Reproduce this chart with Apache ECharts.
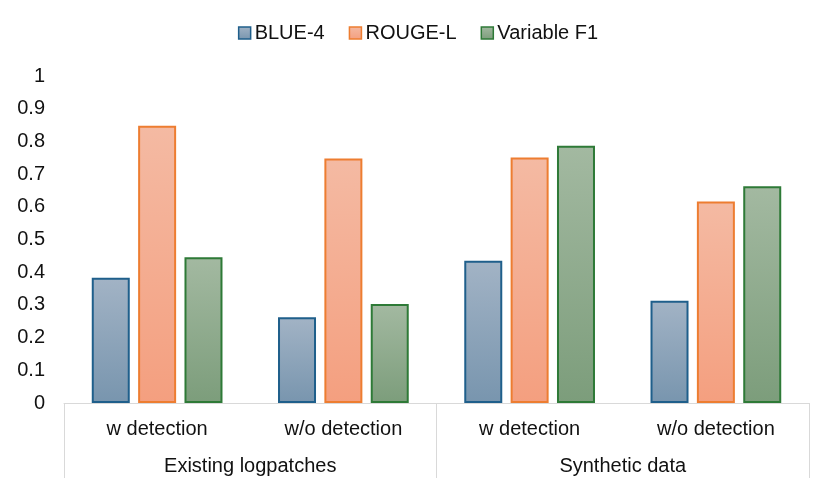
<!DOCTYPE html>
<html><head><meta charset="utf-8">
<script src="https://cdn.jsdelivr.net/npm/echarts@6/dist/echarts.min.js"></script>
<style>html,body{margin:0;padding:0;background:#fff}#c{width:836px;height:491px}</style>
</head><body><div id="c"></div>
<script>
const categories = ['w detection', 'w/o detection', 'w detection', 'w/o detection'];
const groups = ['Existing logpatches', 'Synthetic data'];
const seriesNames = ['BLUE-4', 'ROUGE-L', 'Variable F1'];
const blue4 = [0.383, 0.262, 0.435, 0.313];
const rougeL = [0.848, 0.748, 0.751, 0.616];
const varF1 = [0.446, 0.303, 0.787, 0.663];
const yTicks = [0, 0.1, 0.2, 0.3, 0.4, 0.5, 0.6, 0.7, 0.8, 0.9, 1];

const font = 'Liberation Sans, Arial, sans-serif';
function grad(top, bottom) {
  return new echarts.graphic.LinearGradient(0, 0, 0, 1, [{offset: 0, color: top}, {offset: 1, color: bottom}]);
}
const styles = [
  {fill: grad('#a2b3c5', '#7895ae'), border: '#1f5f8b'},
  {fill: grad('#f4baa3', '#f49f7f'), border: '#ed7d31'},
  {fill: grad('#a3b9a1', '#7c9d7b'), border: '#2e7a37'}
];
const dataArr = [blue4, rougeL, varF1];

const chart = echarts.init(document.getElementById('c'));
chart.setOption({
  animation: false,
  textStyle: {fontFamily: font},
  legend: {
    top: 18, left: 'center', itemWidth: 12, itemHeight: 12, itemGap: 24, itemStyle: {borderWidth: 1.5},
    icon: 'rect',
    textStyle: {fontSize: 20, color: '#111', fontFamily: font, padding: [0, 0, 0, -1]},
    data: seriesNames
  },
  grid: {left: 64, right: 27, top: 76, bottom: 88, containLabel: false},
  xAxis: [
    {
      type: 'category', data: categories, position: 'bottom',
      axisLine: {show: true, lineStyle: {color: '#d9d9d9', width: 1}},
      axisTick: {show: false},
      axisLabel: {fontSize: 20, color: '#111', margin: 16, fontFamily: font, interval: 0}
    },
    {
      type: 'category', data: groups, position: 'bottom',
      axisLine: {show: false},
      axisTick: {show: true, length: 75, interval: 0, lineStyle: {color: '#d9d9d9', width: 1}},
      axisLabel: {fontSize: 20, color: '#111', margin: 53, fontFamily: font, interval: 0}
    }
  ],
  yAxis: {
    type: 'value', min: 0, max: 1, interval: 0.1,
    axisLine: {show: false}, axisTick: {show: false}, splitLine: {show: false},
    axisLabel: {fontSize: 20, color: '#111', margin: 19, fontFamily: font,
      formatter: v => { const r = Math.round(v * 10) / 10; return yTicks.includes(r) ? String(r) : ''; }}
  },
  series: seriesNames.map((n, i) => ({
    name: n, type: 'bar', xAxisIndex: 0, data: dataArr[i],
    barWidth: 38, barGap: '22%',
    itemStyle: {color: styles[i].fill, borderColor: styles[i].border, borderWidth: 2}
  }))
});
</script></body></html>
